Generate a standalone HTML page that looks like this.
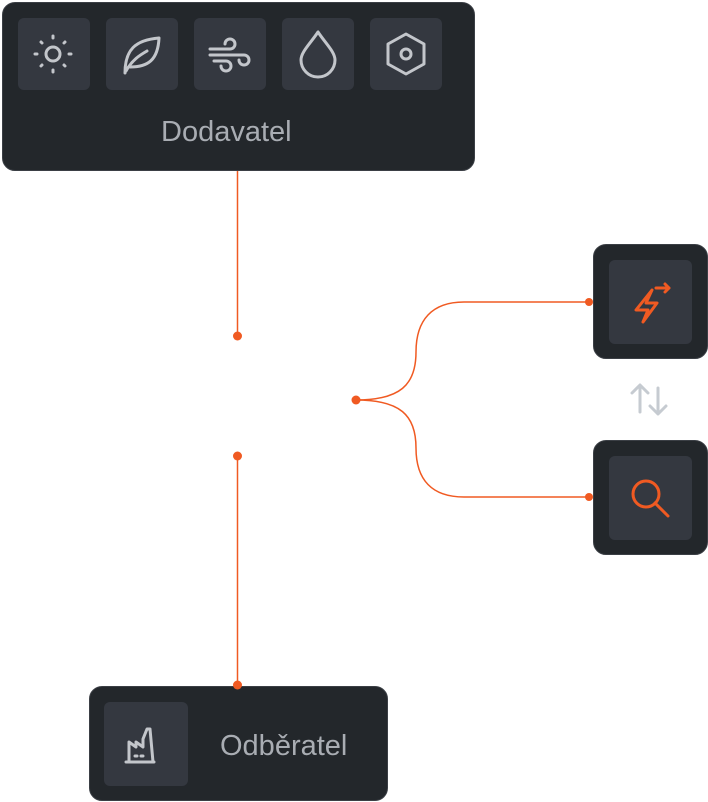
<!DOCTYPE html>
<html><head><style>
body{margin:0;width:708px;height:802px;background:#fff;position:relative;overflow:hidden;font-family:"Liberation Sans",sans-serif}
.box{position:absolute;background:#23272b;border:1.5px solid #3b3f45;border-radius:13px;box-sizing:border-box}
.tile{position:absolute;background:#343840;border-radius:6px}
.lbl{position:absolute;color:#a9adb3;font-size:29px;line-height:32px}
svg{position:absolute;left:0;top:0}
</style></head><body>
<div class="box" style="left:2px;top:2px;width:473px;height:169px"></div>
<div class="tile" style="left:18px;top:18px;width:72px;height:72px"></div>
<div class="tile" style="left:106px;top:18px;width:72px;height:72px"></div>
<div class="tile" style="left:194px;top:18px;width:72px;height:72px"></div>
<div class="tile" style="left:282px;top:18px;width:72px;height:72px"></div>
<div class="tile" style="left:370px;top:18px;width:72px;height:72px"></div>
<div class="lbl" style="left:161px;top:116px">Dodavatel</div>

<div class="box" style="left:593px;top:244px;width:115px;height:115px"></div>
<div class="tile" style="left:609px;top:260px;width:83px;height:84px"></div>
<div class="box" style="left:593px;top:440px;width:115px;height:115px"></div>
<div class="tile" style="left:609px;top:456px;width:83px;height:84px"></div>

<div class="box" style="left:89px;top:686px;width:299px;height:115px"></div>
<div class="tile" style="left:104px;top:702px;width:84px;height:84px"></div>
<div class="lbl" style="left:220px;top:730px">Odběratel</div>

<svg width="708" height="802" viewBox="0 0 708 802" fill="none">
<g stroke="#f05a22" stroke-width="1.5">
<line x1="237.5" y1="171" x2="237.5" y2="336"/>
<line x1="237.5" y1="456" x2="237.5" y2="685"/>
<path d="M356 400 C400 400 416 385 416 352 C416 320 432 302 464 302 L589 302"/>
<path d="M356 400 C400 400 416 415 416 448 C416 480 432 497 464 497 L589 497"/>
</g>
<g fill="#f05a22">
<circle cx="237.5" cy="336" r="4.5"/><circle cx="237.5" cy="456" r="4.5"/><circle cx="237.5" cy="685" r="4.5"/>
<circle cx="356" cy="400" r="4.5"/><circle cx="589" cy="302" r="4"/><circle cx="589" cy="497" r="4"/>
</g>
<g stroke="#c3c6cb" stroke-width="3" stroke-linecap="round" stroke-linejoin="round">
<circle cx="53" cy="54" r="7"/>
<path d="M53 36v2M53 70v2M35 54h2M69 54h2M41 42l1 1M64 65l1 1M41 66l1-1M64 43l1-1"/>
<path d="M125 73 C125 50 135 40 159 38 C158 60 148 67 130 67 M126 71 C132 60 140 55 147 51"/>
<path d="M210 49h20a5 5 0 1 0-5-5M210 55h34a5 5 0 1 1-5 5M214 61h12a5 5 0 1 1-5 5"/>
<path d="M318 32 C310 44 301 52 301 60 a17 17 0 0 0 34 0 C335 52 326 44 318 32Z"/>
<path d="M406 34 L424 44 V64 L406 74 L388 64 V44Z"/>
<circle cx="406" cy="54" r="5"/>
<path d="M126 762h28M129 762v-20l7 5v-5l7 5v-8l4-10 3 0 3 33"/>
<path d="M135 756h2M141 756h2"/>
<path d="M640 412v-26M632 393l8-8 8 8M658 388v26M650 406l8 8 8-8" stroke="#c6cbd1"/>
</g>
<g stroke="#f05a22" stroke-width="3" stroke-linecap="round" stroke-linejoin="round">
<path d="M652 290 L636 310 H648 L643 322 L657 303 H646 Z" />
<path d="M656 288h13M665 284l4 4-4 4"/>
<circle cx="646" cy="494" r="13"/>
<path d="M655 503l13 13"/>
</g>
</svg>
</body></html>
